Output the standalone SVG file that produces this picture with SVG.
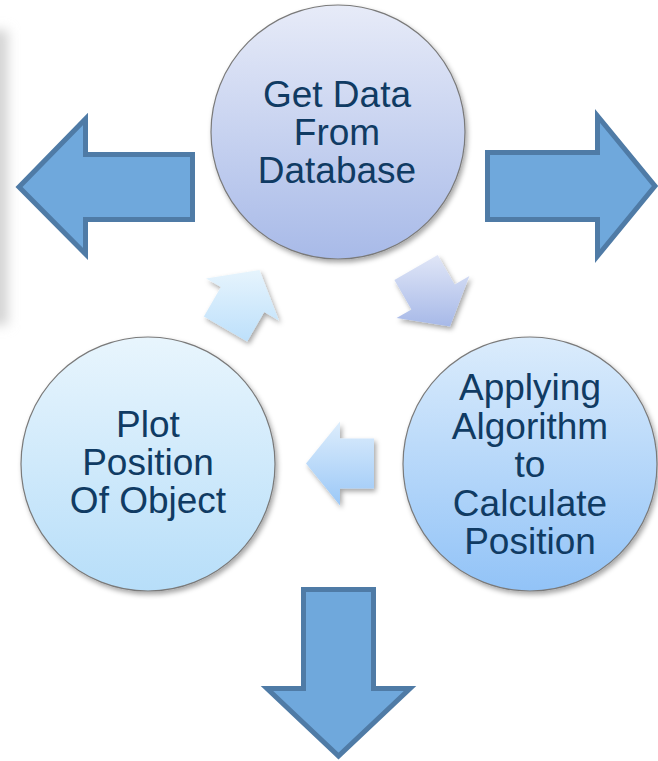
<svg xmlns="http://www.w3.org/2000/svg" width="658" height="761" viewBox="0 0 658 761">
  <defs>
    <linearGradient id="gTop" x1="0" y1="0" x2="0" y2="1">
      <stop offset="0" stop-color="#e7ebf8"/>
      <stop offset="1" stop-color="#a8bae8"/>
    </linearGradient>
    <linearGradient id="gRight" x1="0" y1="0" x2="0" y2="1">
      <stop offset="0" stop-color="#dbecfc"/>
      <stop offset="1" stop-color="#92c3f7"/>
    </linearGradient>
    <linearGradient id="gLeft" x1="0" y1="0" x2="0" y2="1">
      <stop offset="0" stop-color="#e8f5fd"/>
      <stop offset="1" stop-color="#b7def9"/>
    </linearGradient>
    <linearGradient id="gArTR" x1="0" y1="0" x2="0" y2="1">
      <stop offset="0" stop-color="#e0e6f7"/>
      <stop offset="1" stop-color="#a7b9e8"/>
    </linearGradient>
    <linearGradient id="gArTL" x1="0" y1="0" x2="0" y2="1">
      <stop offset="0" stop-color="#e6f4fd"/>
      <stop offset="1" stop-color="#bde0fb"/>
    </linearGradient>
    <linearGradient id="gArM" x1="0" y1="0" x2="0" y2="1">
      <stop offset="0" stop-color="#ddedfc"/>
      <stop offset="1" stop-color="#9bc8f7"/>
    </linearGradient>
    <filter id="shadow" x="-20%" y="-20%" width="140%" height="140%">
      <feDropShadow dx="2" dy="3" stdDeviation="2.5" flood-color="#000" flood-opacity="0.35"/>
    </filter>
    <filter id="blur" x="-100%" y="-20%" width="300%" height="140%">
      <feGaussianBlur stdDeviation="6"/>
    </filter>
  </defs>
  <style>
    .circ { stroke: #7a7a7a; stroke-width: 1.2; filter: url(#shadow); }
    .big { fill: #6fa8dc; stroke: #4f7ba6; stroke-width: 5; stroke-linejoin: miter; }
    .small { filter: url(#shadow); }
    .lbl { font-family: "Liberation Sans", Arial, sans-serif; font-size: 37px; fill: #103b63; text-anchor: middle; }
  </style>
  <rect width="658" height="761" fill="#ffffff"/>
  <rect x="-24" y="30" width="32" height="295" fill="#d4d4d4" filter="url(#blur)"/>

  <g id="connectors">
    <path id="arrow-left" class="big" d="M192.5,154.5 L85.5,154.5 L85.5,119 L19,187 L85.5,254 L85.5,219.5 L192.5,219.5 Z"/>
    <path id="arrow-right" class="big" d="M487.5,152.5 L597.5,152.5 L597.5,116 L655,186 L597.5,256 L597.5,219.5 L487.5,219.5 Z"/>
    <path id="arrow-down" class="big" d="M303.5,589.5 L373.5,589.5 L373.5,688.5 L410,688.5 L338.5,756 L267,688.5 L303.5,688.5 Z"/>
    <polygon id="arrow-top-right" class="small" fill="url(#gArTR)" points="437.7,255.1 454.7,284.5 469.4,276 450,326.4 396.6,318 411.4,309.5 394.4,280.1"/>
    <polygon id="arrow-top-left" class="small" fill="url(#gArTL)" points="203.9,316.4 220.9,287 206.1,278.5 259.5,270.1 278.9,320.5 264.2,312 247.2,341.4"/>
    <polygon id="arrow-middle" class="small" fill="url(#gArM)" points="374,488.5 340,488.5 340,505.5 306,463.5 340,421.5 340,438.5 374,438.5"/>
  </g>

  <g id="node-get-data">
    <circle class="circ" cx="338" cy="132" r="127" fill="url(#gTop)"/>
    <text class="lbl" x="337" y="107">Get Data</text>
    <text class="lbl" x="337" y="145">From</text>
    <text class="lbl" x="337" y="183">Database</text>
  </g>

  <g id="node-applying">
    <circle class="circ" cx="530" cy="464" r="127" fill="url(#gRight)"/>
    <text class="lbl" x="530" y="400">Applying</text>
    <text class="lbl" x="530" y="438.5">Algorithm</text>
    <text class="lbl" x="530" y="477">to</text>
    <text class="lbl" x="530" y="515.5">Calculate</text>
    <text class="lbl" x="530" y="554">Position</text>
  </g>

  <g id="node-plot">
    <circle class="circ" cx="148" cy="464" r="127" fill="url(#gLeft)"/>
    <text class="lbl" x="148" y="437">Plot</text>
    <text class="lbl" x="148" y="475">Position</text>
    <text class="lbl" x="148" y="513">Of Object</text>
  </g>
</svg>
